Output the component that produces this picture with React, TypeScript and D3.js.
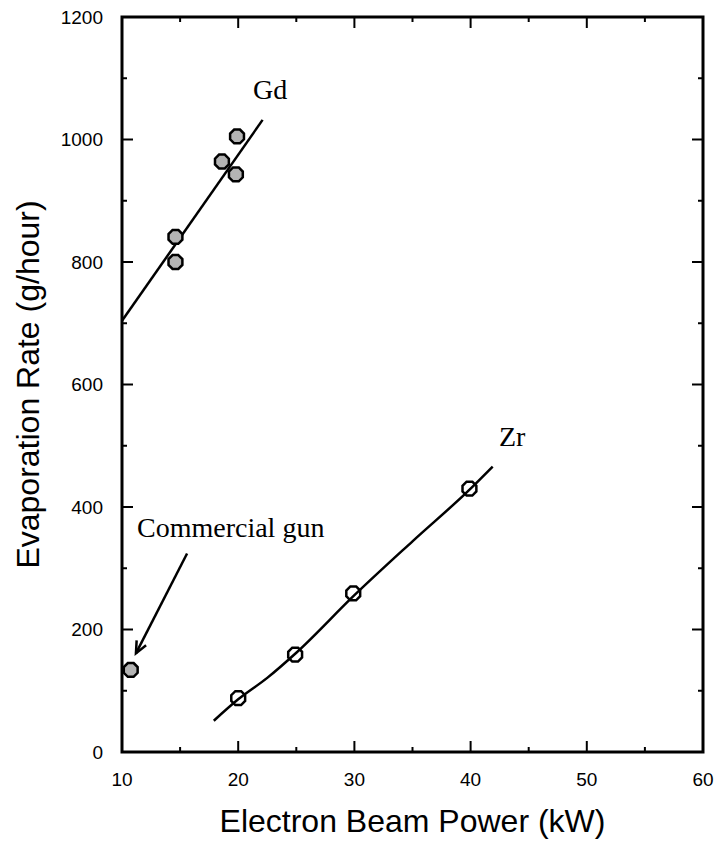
import React, { useEffect, useRef } from 'react';
import * as d3 from 'd3';

// Gd measured points (kW, g/hour)
const gdPower = [14.6, 14.6, 18.6, 19.9, 19.8];
const gdRate = [841, 800, 964, 1005, 943];
// Gd fit line ends
const gdFitPower = [10, 22.1];
const gdFitRate = [704, 1032];

// Zr measured points
const zrPower = [20, 24.9, 29.9, 39.9];
const zrRate = [88, 159, 259, 430];
// Zr fit curve
const zrFitPower = [17.9, 20, 22.5, 25, 30, 35, 40, 41.9];
const zrFitRate = [51, 86, 121, 162, 256, 344, 430, 466];

// commercial gun
const gunPower = [10.75];
const gunRate = [134];
const arrowFrom = [15.6, 324];
const arrowTo = [11.2, 161];

const xMajor = [10, 20, 30, 40, 50, 60];
const xMinor = [15, 25, 35, 45, 55];
const yMajor = [0, 200, 400, 600, 800, 1000, 1200];
const yMinor = [100, 300, 500, 700, 900, 1100];

const App = () => {
    const ref = useRef(null);

    useEffect(() => {
        const width = 715;
        const height = 844;
        const left = 122, right = 703, top = 17, bottom = 752;

        const x = d3.scaleLinear().domain([10, 60]).range([left, right]);
        const y = d3.scaleLinear().domain([0, 1200]).range([bottom, top]);

        const svg = d3.select(ref.current)
            .attr("width", width)
            .attr("height", height);
        svg.selectAll('*').remove();

        // fit lines
        const line = d3.line().x(d => x(d[0])).y(d => y(d[1]));
        svg.append("path")
            .attr("d", line(gdFitPower.map((p, i) => [p, gdFitRate[i]])))
            .attr("fill", "none").attr("stroke", "#000").attr("stroke-width", 2.5);
        svg.append("path")
            .attr("d", line.curve(d3.curveMonotoneX)(zrFitPower.map((p, i) => [p, zrFitRate[i]])))
            .attr("fill", "none").attr("stroke", "#000").attr("stroke-width", 2.5);

        // octagon marker
        const r = 7.5;
        const oct = d3.lineRadial().curve(d3.curveLinearClosed)
            .angle(d => d).radius(r);
        const octPath = oct(d3.range(8).map(i => Math.PI / 8 + i * Math.PI / 4));

        const drawPts = (px, py, fill) => {
            svg.append("g")
                .selectAll("path")
                .data(px.map((p, i) => [p, py[i]]))
                .join("path")
                .attr("d", octPath)
                .attr("transform", d => `translate(${x(d[0])},${y(d[1])})`)
                .attr("fill", fill)
                .attr("stroke", "#000")
                .attr("stroke-width", 2.5);
        };
        drawPts(gdPower, gdRate, "#b4b4b4");
        drawPts(zrPower, zrRate, "none");
        drawPts(gunPower, gunRate, "#b4b4b4");

        // arrow
        const x1 = x(arrowFrom[0]), y1 = y(arrowFrom[1]);
        const x2 = x(arrowTo[0]), y2 = y(arrowTo[1]);
        svg.append("line")
            .attr("x1", x1).attr("y1", y1).attr("x2", x2).attr("y2", y2)
            .attr("stroke", "#000").attr("stroke-width", 2.5);
        const ang = Math.atan2(y2 - y1, x2 - x1);
        const ah = 13, spread = 0.42;
        svg.append("path")
            .attr("d", `M${x2 - ah * Math.cos(ang - spread)},${y2 - ah * Math.sin(ang - spread)}L${x2},${y2}L${x2 - ah * Math.cos(ang + spread)},${y2 - ah * Math.sin(ang + spread)}`)
            .attr("fill", "none").attr("stroke", "#000").attr("stroke-width", 2.5)
            .attr("stroke-linejoin", "miter");

        // ticks on all four sides (inward)
        const ticks = svg.append("g").attr("stroke", "#000").attr("stroke-width", 2);
        const addX = (vals, len) => vals.forEach(v => {
            ticks.append("line").attr("x1", x(v)).attr("x2", x(v)).attr("y1", bottom).attr("y2", bottom - len);
            ticks.append("line").attr("x1", x(v)).attr("x2", x(v)).attr("y1", top).attr("y2", top + len);
        });
        const addY = (vals, len) => vals.forEach(v => {
            ticks.append("line").attr("y1", y(v)).attr("y2", y(v)).attr("x1", left).attr("x2", left + len);
            ticks.append("line").attr("y1", y(v)).attr("y2", y(v)).attr("x1", right).attr("x2", right - len);
        });
        addX(xMajor, 11); addX(xMinor, 5);
        addY(yMajor, 11); addY(yMinor, 5);

        // frame
        svg.append("rect")
            .attr("x", left).attr("y", top)
            .attr("width", right - left).attr("height", bottom - top)
            .attr("fill", "none").attr("stroke", "#000").attr("stroke-width", 3);

        // tick labels
        const sans = "Arial, 'Liberation Sans', sans-serif";
        svg.append("g")
            .attr("font-family", sans).attr("font-size", 19).attr("text-anchor", "middle")
            .selectAll("text").data(xMajor).join("text")
            .attr("x", d => x(d)).attr("y", 786).text(d => d);
        svg.append("g")
            .attr("font-family", sans).attr("font-size", 19).attr("text-anchor", "end")
            .selectAll("text").data(yMajor).join("text")
            .attr("x", 103).attr("y", d => y(d)).attr("dy", "0.35em").text(d => d);

        // axis titles
        svg.append("text")
            .attr("x", (left + right) / 2).attr("y", 832)
            .attr("text-anchor", "middle")
            .attr("font-family", sans).attr("font-size", 32)
            .text("Electron Beam Power (kW)");
        svg.append("text")
            .attr("transform", `translate(39,${(top + bottom) / 2}) rotate(-90)`)
            .attr("text-anchor", "middle")
            .attr("font-family", sans).attr("font-size", 32)
            .text("Evaporation Rate (g/hour)");

        // annotations
        const serif = "'Times New Roman', 'Liberation Serif', serif";
        svg.append("text").attr("x", 253).attr("y", 99)
            .attr("font-family", serif).attr("font-size", 28).text("Gd");
        svg.append("text").attr("x", 499).attr("y", 446)
            .attr("font-family", serif).attr("font-size", 28).text("Zr");
        svg.append("text").attr("x", 137).attr("y", 537)
            .attr("font-family", serif).attr("font-size", 28).text("Commercial gun");
    }, []);

    return (
        <svg ref={ref} style={{ position: 'absolute', left: 0, top: 0 }}></svg>
    );
};

export default App;
